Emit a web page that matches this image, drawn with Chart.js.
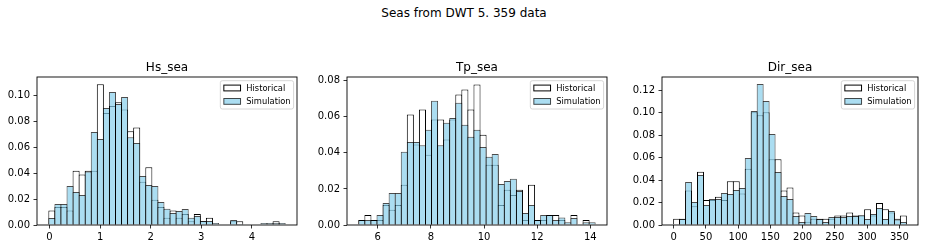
<!DOCTYPE html>
<html><head><meta charset="utf-8">
<script src="https://cdn.jsdelivr.net/npm/chart.js@4.4.1/dist/chart.umd.min.js"></script>
<style>
html,body{margin:0;padding:0;background:#fff;width:928px;height:249px;overflow:hidden;position:relative;font-family:"DejaVu Sans";}
canvas{position:absolute;}
.t{position:absolute;font-size:12px;line-height:14px;color:#000;white-space:nowrap;text-align:center;font-family:"DejaVu Sans";}
</style></head><body>
<div class="t" style="left:0;width:928px;top:6px">Seas from DWT 5. 359 data</div>
<script>
// ---------- data ----------
const seriesLabels = ['Historical', 'Simulation'];

const hsBinStart = -0.014, hsBinWidth = 0.1198;
const hsHist = [0.0111,0.0139,0.0139,0.0111,0.0418,0.0390,0.0418,0.0418,0.1086,0.0864,0.0919,0.0947,0.0891,0.0724,0.0752,0.0334,0.0446,0.0195,0.0139,0.0056,0.0111,0.0056,0.0084,0.0028,0.0084,0.0028,0.0056,0,0,0,0.0028,0.0028,0,0,0,0,0,0.0028,0];
const hsSim  = [0.0054,0.0162,0.0162,0.0301,0.0254,0.0231,0.0413,0.0717,0.0663,0.0902,0.1026,0.0933,0.0987,0.0677,0.0632,0.0378,0.0308,0.0301,0.0177,0.0125,0.0093,0.0108,0.0123,0.0056,0.0070,0.0031,0.0031,0.0015,0,0,0.0039,0.0008,0,0,0,0.0015,0.0015,0.0015,0.0015];
const hsXTicks = [0,1,2,3,4];
const hsYTicks = [0,0.02,0.04,0.06,0.08,0.10];

const tpBinStart = 5.29, tpBinWidth = 0.228;
const tpHist = [0.0028,0.0056,0.0028,0.0028,0.0111,0.0084,0.0111,0.0223,0.0613,0.0446,0.0641,0.0390,0.0585,0.0585,0.0474,0.0585,0.0724,0.0752,0.0641,0.0780,0.0501,0.0334,0.0334,0.0111,0.0195,0.0167,0.0195,0.0028,0.0223,0.0028,0.0028,0.0056,0.0056,0.0028,0,0.0056,0,0.0028,0];
const tpSim  = [0.0028,0.0028,0.0028,0.0056,0.0122,0.0178,0.0178,0.0406,0.0461,0.0461,0.0443,0.0528,0.0689,0.0443,0.0567,0.0594,0.0678,0.0556,0.0489,0.0528,0.0433,0.0378,0.0394,0.0228,0.0244,0.0256,0.0189,0.0067,0.0111,0.0028,0.0056,0.0056,0.0028,0.0042,0.0015,0.0039,0,0.0015,0.0015];
const tpXTicks = [6,8,10,12,14];
const tpYTicks = [0,0.02,0.04,0.06,0.08];

const dirBinStart = 0, dirBinWidth = 9.25;
const dirHist = [0.0056,0.0056,0.0306,0.0167,0.0474,0.0223,0.0223,0.0251,0.0223,0.0390,0.0390,0.0279,0.0501,0.1003,0.0975,0.1003,0.0585,0.0585,0.0306,0.0334,0.0111,0.0084,0.0028,0.0056,0.0056,0.0056,0.0056,0.0084,0.0084,0.0111,0.0084,0.0084,0.0139,0.0084,0.0195,0.0139,0.0111,0.0056,0.0084];
const dirSim  = [0,0.0053,0.0382,0.0204,0.0444,0.0178,0.0231,0.0231,0.0284,0.0276,0.0311,0.0329,0.0596,0.1013,0.1253,0.1102,0.0809,0.0471,0.0258,0.0231,0.0080,0.0027,0.0107,0.0080,0.0053,0.0027,0.0071,0.0071,0.0071,0.0080,0.0080,0.0087,0.0053,0.0098,0.0151,0.0053,0.0124,0.0050,0.0027];
const dirXTicks = [0,50,100,150,200,250,300,350];
const dirYTicks = [0,0.02,0.04,0.06,0.08,0.10,0.12];

// ---------- layout ----------
const panels = [
  {title:'Hs_sea', left:37, top:77, w:260, h:148, xmin:-0.248, xmax:4.892, ymax:0.1142,
   start:hsBinStart, width:hsBinWidth, hist:hsHist, sim:hsSim, xt:hsXTicks, yt:hsYTicks},
  {title:'Tp_sea', left:347, top:77, w:260, h:148, xmin:4.845, xmax:14.627, ymax:0.0821,
   start:tpBinStart, width:tpBinWidth, hist:tpHist, sim:tpSim, xt:tpXTicks, yt:tpYTicks},
  {title:'Dir_sea', left:662, top:77, w:256, h:148, xmin:-18.04, xmax:378.8, ymax:0.1316,
   start:dirBinStart, width:dirBinWidth, hist:dirHist, sim:dirSim, xt:dirXTicks, yt:dirYTicks}
];

const FONT = 'DejaVu Sans';
Chart.defaults.font.family = FONT;
Chart.defaults.color = '#000';

const framePlugin = {
  id:'frame',
  afterDatasetsDraw(c){
    const a=c.chartArea, ctx=c.ctx;
    ctx.save(); ctx.strokeStyle='#000'; ctx.lineWidth=0.9;
    ctx.strokeRect(a.left, a.top, a.right-a.left, a.bottom-a.top);
    ctx.restore();
  }
};

function rr(ctx,x,y,w,h,r){
  ctx.beginPath();
  ctx.moveTo(x+r,y); ctx.lineTo(x+w-r,y); ctx.quadraticCurveTo(x+w,y,x+w,y+r);
  ctx.lineTo(x+w,y+h-r); ctx.quadraticCurveTo(x+w,y+h,x+w-r,y+h);
  ctx.lineTo(x+r,y+h); ctx.quadraticCurveTo(x,y+h,x,y+h-r);
  ctx.lineTo(x,y+r); ctx.quadraticCurveTo(x,y,x+r,y); ctx.closePath();
}

const legendPlugin = {
  id:'mplLegend',
  afterDraw(c){
    const ctx=c.ctx, a=c.chartArea, fs=8.33;
    ctx.save();
    ctx.font = fs+'px "'+FONT+'"';
    const ds=c.data.datasets;
    const tw=Math.max(...ds.map(d=>ctx.measureText(d.label).width));
    const pad=3.0, hl=16.7, hh=5.8, htp=6.2, rowH=13.4;
    const w=pad+hl+htp+tw+pad, h=28.3;
    const x=a.right-3.4-w, y=a.top+3.7;
    rr(ctx,x,y,w,h,2);
    ctx.fillStyle='rgba(255,255,255,0.8)'; ctx.fill();
    ctx.strokeStyle='#cccccc'; ctx.lineWidth=0.8; ctx.stroke();
    ds.forEach((d,i)=>{
      const cy=y+7.3+i*rowH;
      const hx=x+pad+0.5, hy=cy-hh/2;
      ctx.fillStyle=d.backgroundColor; ctx.fillRect(hx,hy,hl,hh);
      ctx.strokeStyle=d.borderColor; ctx.lineWidth=1; ctx.strokeRect(hx,hy,hl,hh);
      ctx.fillStyle='#000'; ctx.textBaseline='middle'; ctx.textAlign='left';
      ctx.fillText(d.label, x+pad+hl+htp, cy+0.5);
    });
    ctx.restore();
  }
};

function makePanel(p){
  const padL=45, padR=8, padT=10, axH=22;
  const cv=document.createElement('canvas');
  cv.width=padL+p.w+padR; cv.height=padT+p.h+axH;
  cv.style.left=(p.left-padL)+'px'; cv.style.top=(p.top-padT)+'px';
  cv.style.width=cv.width+'px'; cv.style.height=cv.height+'px';
  document.body.appendChild(cv);

  const tt=document.createElement('div');
  tt.className='t'; tt.textContent=p.title;
  tt.style.left=p.left+'px'; tt.style.width=p.w+'px'; tt.style.top=(p.top-17)+'px';
  document.body.appendChild(tt);

  const centers=p.hist.map((_,i)=>p.start+(i+0.5)*p.width);
  const binPx=p.w*p.width/(p.xmax-p.xmin);
  const bp=1+1/binPx;

  new Chart(cv,{
    type:'bar',
    data:{datasets:[
      {label:seriesLabels[0], data:centers.map((x,i)=>({x:x,y:p.hist[i]})),
       backgroundColor:'#ffffff', borderColor:'#000000', order:1},
      {label:seriesLabels[1], data:centers.map((x,i)=>({x:x,y:p.sim[i]})),
       backgroundColor:'rgba(135,206,235,0.7)', borderColor:'rgba(0,0,0,0.7)', order:0}
    ]},
    options:{
      responsive:false, animation:false, devicePixelRatio:1,
      layout:{padding:{top:padT,right:padR,left:0,bottom:0}},
      datasets:{bar:{grouped:false, barPercentage:bp, categoryPercentage:1, borderWidth:1, borderSkipped:'start', inflateAmount:0}},
      plugins:{legend:{display:false}, tooltip:{enabled:false}, title:{display:false}},
      scales:{
        x:{type:'linear', min:p.xmin, max:p.xmax, offset:false,
           afterBuildTicks:s=>{s.ticks=p.xt.map(v=>({value:v}));},
           afterFit:s=>{s.height=axH;},
           grid:{offset:false, drawOnChartArea:false, drawTicks:true, tickLength:3.5, color:'#000', lineWidth:0.8},
           border:{display:false},
           ticks:{color:'#000', font:{size:10, family:FONT}, padding:2.5, maxRotation:0, autoSkip:false, callback:v=>String(v)}},
        y:{type:'linear', min:0, max:p.ymax,
           afterBuildTicks:s=>{s.ticks=p.yt.map(v=>({value:v}));},
           afterFit:s=>{s.width=padL;},
           grid:{drawOnChartArea:false, drawTicks:true, tickLength:3.5, color:'#000', lineWidth:0.8},
           border:{display:false},
           ticks:{color:'#000', font:{size:10, family:FONT}, padding:3.5, autoSkip:false, callback:v=>Number(v).toFixed(2)}}
      }
    },
    plugins:[framePlugin, legendPlugin]
  });
}
panels.forEach(makePanel);
</script>
</body></html>
